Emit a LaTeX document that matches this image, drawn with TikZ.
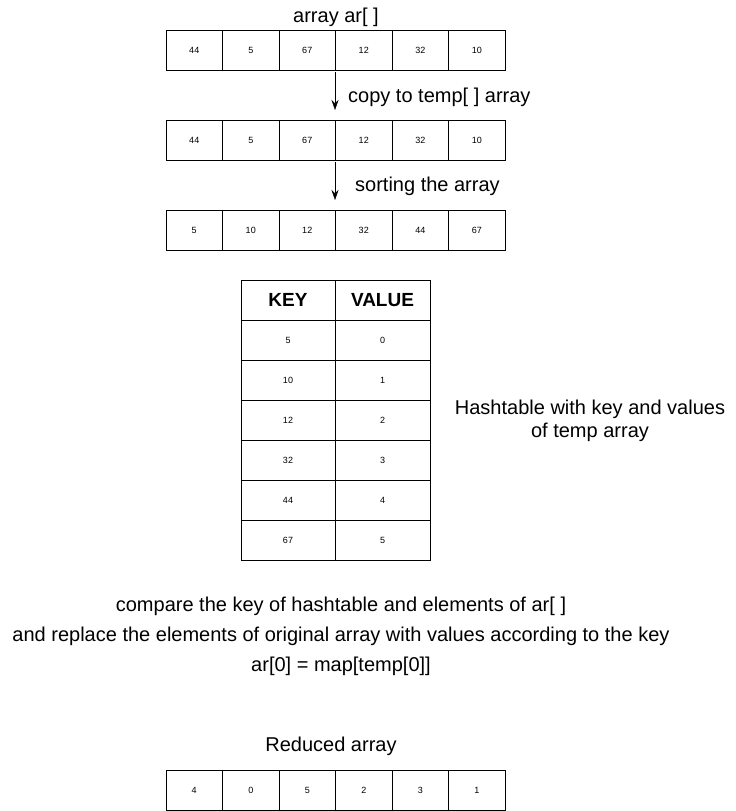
\documentclass[tikz,border=0pt]{standalone}
\usepackage{fontspec}
\setmainfont{Liberation Sans}
\usetikzlibrary{arrows.meta}
\begin{document}
\begin{tikzpicture}[x=1pt,y=-1pt,
 cell/.style={draw,minimum width=56.5pt,minimum height=40pt,inner sep=0pt,font=\fontsize{9}{10}\selectfont},
 tcell/.style={draw,minimum width=94.5pt,minimum height=40pt,inner sep=0pt,font=\fontsize{9}{10}\selectfont},
 head/.style={tcell,font=\fontsize{19}{22}\selectfont\bfseries},
 lab/.style={font=\fontsize{20}{23}\selectfont,inner sep=0pt},
 arr/.style={-{Stealth[length=10pt,width=7pt]}}]
\useasboundingbox (0,0) rectangle (736,811);
\def\row#1#2#3{\foreach \v [count=\i] in {#3} {\node[cell] (#1\i) at (166+56.5*\i-28.25,#2) {\v};}}
\row{a}{50}{44,5,67,12,32,10}
\row{b}{140}{44,5,67,12,32,10}
\row{c}{230}{5,10,12,32,44,67}
\row{d}{790}{4,0,5,2,3,1}
\node[lab] (t1) at (336,17) {array ar[ ]};
\coordinate (s1) at (335,72); \coordinate (e1) at (335,110);
\coordinate (s2) at (335,162); \coordinate (e2) at (335,200);
\draw[arr] (s1) -- (e1);
\draw[arr] (s2) -- (e2);
\node[lab,anchor=west] (l1) at (348,97) {copy to temp[ ] array};
\node[lab,anchor=west] (l2) at (355,186) {sorting the array};
\node[head] (hk) at (288,300) {KEY};
\node[head] (hv) at (382.5,300) {VALUE};
\foreach \k/\v [count=\i] in {5/0,10/1,12/2,32/3,44/4,67/5}{
 \node[tcell] (k\i) at (288,300+40*\i) {\k};
 \node[tcell] (v\i) at (382.5,300+40*\i) {\v};}
\node[lab,align=center] (h) at (590,421) {Hashtable with key and values\\[0pt]of temp array};
\node[lab,align=center] (cmp) at (341,636) {compare the key of hashtable and elements of ar[ ]\\[7pt]and replace the elements of original array with values according to the key\\[7pt]ar[0] = map[temp[0]]};
\node[lab] (r) at (331,746) {Reduced array};
\end{tikzpicture}
\end{document}
